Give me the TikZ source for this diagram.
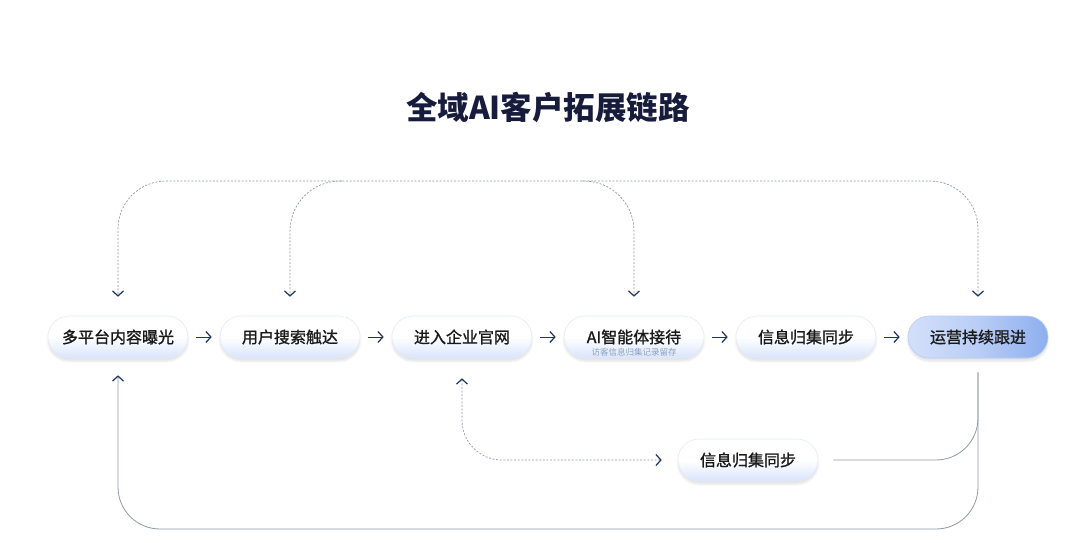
\documentclass[tikz,border=0pt]{standalone}
\usepackage{fontspec}
\usepackage{xcolor}
\usepackage{tikz}
\usetikzlibrary{arrows.meta,shadows.blur,calc}
\setmainfont{Noto Sans CJK SC}
\newfontfamily\pillfont{Noto Sans CJK SC}[FakeBold=1.2]

\definecolor{navy}{HTML}{1E3560}
\definecolor{titleink}{HTML}{171B3C}
\definecolor{wire}{HTML}{8E98AB}
\definecolor{pillblue}{HTML}{D9E4FB}
\definecolor{pilledge}{HTML}{E3EAFA}
\definecolor{pilldeep}{HTML}{8DAEEE}
\definecolor{pilllight}{HTML}{D4E0FA}
\definecolor{pillmid}{HTML}{B9CDF6}
\definecolor{subink}{HTML}{8EA0C8}

\tikzset{
  pill/.style={rounded corners=21pt, minimum width=140pt, minimum height=42pt,
    inner sep=0pt, font=\pillfont\fontsize{16}{16}\selectfont, text=black!90,
    draw=pilledge, line width=0.6pt,
    top color=white, bottom color=pillblue, middle color=white,
    blur shadow={shadow blur steps=6, shadow xshift=0pt, shadow yshift=-3pt, shadow opacity=12}},
  tip/.style={-{Straight Barb[color=navy, length=5pt, width=11pt, line width=1.2pt]}},
  step arrow/.style={tip, draw=navy, line width=1pt, shorten <=8pt, shorten >=8pt},
  dashline/.style={draw=wire, line width=0.7pt, dash pattern=on 2pt off 1.6pt},
  solidline/.style={draw=wire, line width=0.8pt},
}

\begin{document}
\begin{tikzpicture}[x=1pt, y=-1pt]
        \useasboundingbox (0,0) rectangle (1080,542);

        \node[font=\fontsize{31.5}{31.5}\selectfont\bfseries, text=titleink] (title) at (548,107) {全域AI客户拓展链路};

        \node[pill] (expose) at (118,337) {多平台内容曝光};
        \node[pill] (search) at (290,337) {用户搜索触达};
        \node[pill] (site) at (462,337) {进入企业官网};
        \node[pill] (agent) at (634,337) {AI智能体接待};
        \node[font=\fontsize{8.5}{8.5}\selectfont, text=subink] (agentnote) at (634,352) {访客信息归集记录留存};
        \node[pill] (sync) at (806,337) {信息归集同步};
        \node[pill, draw=pillmid, left color=pilllight, right color=pilldeep, middle color=pillmid] (follow) at (978,337) {运营持续跟进};
        \node[pill] (syncb) at (748,460) {信息归集同步};

        \draw[step arrow] (expose) -- (search);
        \draw[step arrow] (search) -- (site);
        \draw[step arrow] (site) -- (agent);
        \draw[step arrow] (agent) -- (sync);
        \draw[step arrow] (sync) -- (follow);

        % dashed feedback over the top
        \coordinate (t1) at (118,181);
        \coordinate (t2) at (290,181);
        \coordinate (t4) at (634,181);
        \coordinate (t6) at (978,181);
        \draw[dashline, rounded corners=48pt, {Straight Barb[color=navy, length=5pt, width=11pt, line width=1.2pt]}-{Straight Barb[color=navy, length=5pt, width=11pt, line width=1.2pt]}, shorten <=19pt, shorten >=19pt] (follow.north) -- (t6) -- (t1) -- (expose.north);
        \draw[dashline, rounded corners=50pt, tip, shorten >=19pt] ($(t2)+(52,0)$) -- (t2) -- (search.north);
        \draw[dashline, rounded corners=50pt, tip, shorten >=19pt] ($(t4)+(-52,0)$) -- (t4) -- (agent.north);

        % dashed branch below the site
        \draw[dashline, rounded corners=40pt, {Straight Barb[color=navy, length=5pt, width=11pt, line width=1.2pt]}-{Straight Barb[color=navy, length=5pt, width=11pt, line width=1.2pt]}, shorten <=20pt, shorten >=16pt] (site.south) |- (syncb.west);

        % solid return lines
        \draw[solidline, rounded corners=42pt, shorten <=15pt, shorten >=14pt] (syncb.east) -| (follow.south);
        \draw[solidline, rounded corners=42pt, tip, shorten <=14pt, shorten >=17pt] (follow.south) -- (978,529) -- (118,529) -- (expose.south);
    \end{tikzpicture}
\end{document}
